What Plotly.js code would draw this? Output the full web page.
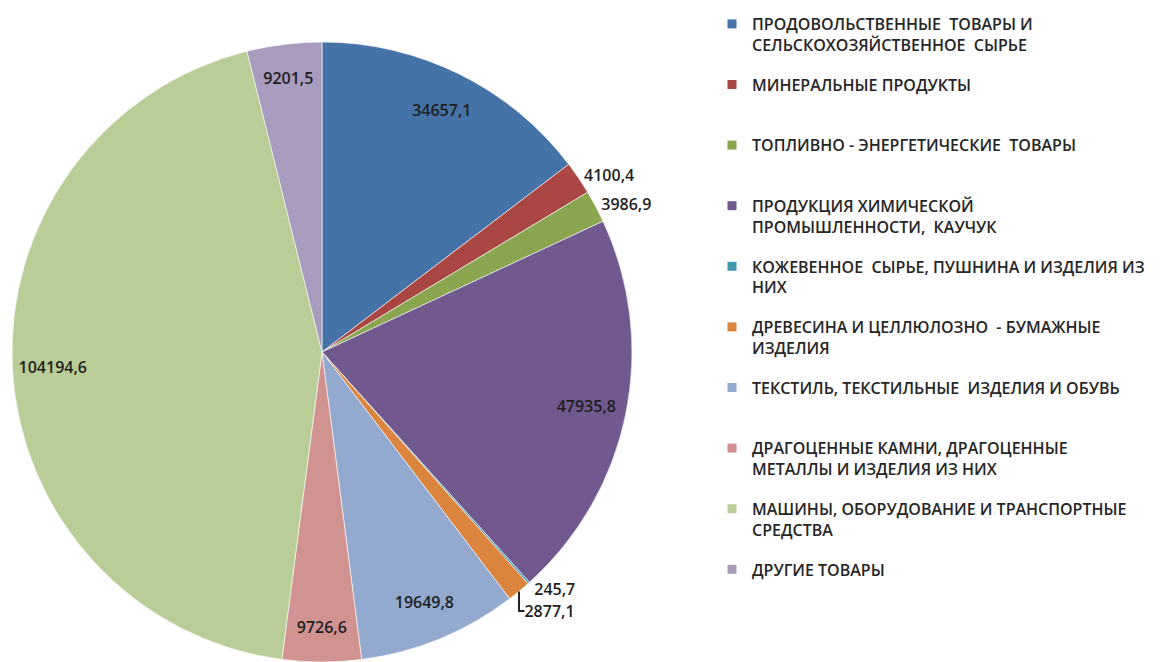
<!DOCTYPE html>
<html>
<head>
<meta charset="utf-8">
<script src="https://cdn.plot.ly/plotly-3.0.1.min.js"></script>
<style>html,body{margin:0;padding:0;background:#fff;}#chart{width:1169px;height:662px;}</style>
</head>
<body>
<div id="chart"></div>
<script>
const categories = [
  "ПРОДОВОЛЬСТВЕННЫЕ\u00a0 ТОВАРЫ И<br>СЕЛЬСКОХОЗЯЙСТВЕННОЕ\u00a0 СЫРЬЕ",
  "МИНЕРАЛЬНЫЕ ПРОДУКТЫ",
  "ТОПЛИВНО - ЭНЕРГЕТИЧЕСКИЕ\u00a0 ТОВАРЫ",
  "ПРОДУКЦИЯ ХИМИЧЕСКОЙ<br>ПРОМЫШЛЕННОСТИ,\u00a0 КАУЧУК",
  "КОЖЕВЕННОЕ\u00a0 СЫРЬЕ, ПУШНИНА И ИЗДЕЛИЯ ИЗ<br>НИХ",
  "ДРЕВЕСИНА И ЦЕЛЛЮЛОЗНО\u00a0 - БУМАЖНЫЕ<br>ИЗДЕЛИЯ",
  "ТЕКСТИЛЬ, ТЕКСТИЛЬНЫЕ\u00a0 ИЗДЕЛИЯ И ОБУВЬ",
  "ДРАГОЦЕННЫЕ КАМНИ, ДРАГОЦЕННЫЕ<br>МЕТАЛЛЫ И ИЗДЕЛИЯ ИЗ НИХ",
  "МАШИНЫ, ОБОРУДОВАНИЕ И ТРАНСПОРТНЫЕ<br>СРЕДСТВА",
  "ДРУГИЕ ТОВАРЫ"
];
const values = [34657.1, 4100.4, 3986.9, 47935.8, 245.7, 2877.1, 19649.8, 9726.6, 104194.6, 9201.5];
const colors = ["#4572A7", "#AA4643", "#89A54E", "#71588F", "#4198AF", "#DB843D", "#93A9CF", "#D19392", "#B9CD96", "#A99BBD"];
const labelPositions = ["inside", "outside", "outside", "inside", "outside", "outside", "inside", "inside", "inside", "inside"];

const dom = {x: [12/1169, 632/1169], y: [0, 620/662]};
const FONT = "Open Sans, Noto Sans, sans-serif";

const traces = [];
// Solid pie
traces.push({
  type: "pie",
  labels: categories,
  values: values,
  sort: false,
  direction: "clockwise",
  rotation: 0,
  domain: dom,
  marker: {colors: colors, line: {color: "rgba(255,255,255,0.6)", width: 1}},
  textinfo: "none",
  hoverinfo: "label+value",
  showlegend: false
});
// Transparent ring carrying the value labels near the outer edge
traces.push({
  type: "pie",
  labels: categories,
  values: values,
  sort: false,
  direction: "clockwise",
  rotation: 0,
  hole: 0.74,
  domain: dom,
  marker: {colors: categories.map(() => "rgba(0,0,0,0)"), line: {width: 0}},
  texttemplate: "%{value:.1f}",
  textposition: labelPositions,
  insidetextorientation: "horizontal",
  textfont: {family: FONT, size: 16, color: "#1f1f1f", weight: 600},
  hoverinfo: "skip",
  showlegend: false,
  automargin: false
});
// Legend entries
categories.forEach((c, i) => {
  const txt = c.indexOf("<br>") >= 0 ? c : c + "<br> ";
  traces.push({
    type: "scatter", mode: "markers",
    x: [null], y: [null],
    name: txt,
    legendgroup: "g" + i,
    marker: {symbol: "square", size: 9, color: colors[i]},
    hoverinfo: "skip",
    showlegend: true
  });
});

const layout = {
  width: 1169, height: 662,
  margin: {l: 0, r: 0, t: 0, b: 0},
  paper_bgcolor: "#fff", plot_bgcolor: "#fff",
  separators: ", ",
  showlegend: true,
  xaxis: {visible: false}, yaxis: {visible: false},
  legend: {
    x: 712/1169, xanchor: "left",
    y: 1 - 7/662, yanchor: "top",
    valign: "top",
    tracegroupgap: 16,
    font: {family: FONT, size: 16, color: "#262626", weight: 600},
    bgcolor: "rgba(0,0,0,0)"
  }
};
Plotly.newPlot("chart", traces, layout, {displayModeBar: false, staticPlot: true});
</script>
</body>
</html>
